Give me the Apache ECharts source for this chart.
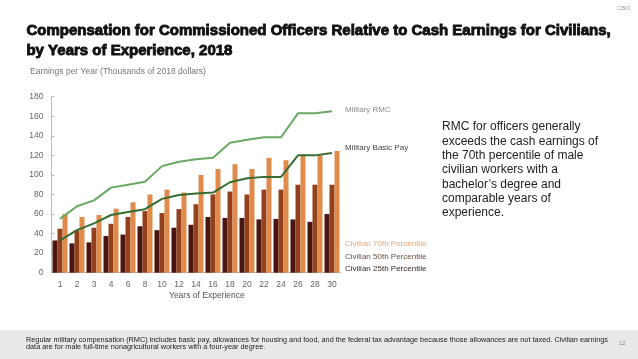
<!DOCTYPE html>
<html>
<head>
<meta charset="utf-8">
<script src="https://cdn.jsdelivr.net/npm/echarts@6/dist/echarts.min.js"></script>
<style>
html,body{margin:0;padding:0;background:#fff;}
#c{width:638px;height:359px;}
</style>
</head>
<body>
<div id="c"></div>
<script>
var years = ['1','2','3','4','6','8','10','12','14','16','18','20','22','24','26','28','30'];
var civ25 = [33, 30, 31, 37.5, 39, 47.5, 43.5, 46, 49, 57, 56, 56, 54.5, 55, 54.5, 52, 60];
var civ50 = [45, 43, 46, 50, 57, 63, 61, 65, 70, 80, 83, 80, 85, 85, 90, 90, 90];
var civ70 = [60, 57, 59, 65.5, 72, 80, 85, 82, 100, 106, 111, 106, 117.5, 115, 120, 120, 124.5];
var rmc = [55, 68, 74, 87, 90, 93, 109, 113.5, 116, 117.5, 133, 136, 138.5, 138.5, 163, 163, 165];
var basicPay = [33, 43.5, 50.5, 59, 62, 65, 75.5, 79.5, 81, 82, 92.5, 96.5, 98, 98, 120, 120, 122.5];

var titleLines = ['Compensation for Commissioned Officers Relative to Cash Earnings for Civilians,', 'by Years of Experience, 2018'];
var noteText = 'RMC for officers generally\nexceeds the cash earnings of\nthe 70th percentile of male\ncivilian workers with a\nbachelor\u2019s degree and\ncomparable years of\nexperience.';
var footerText = 'Regular military compensation (RMC) includes basic pay, allowances for housing and food, and the federal tax advantage because those allowances are not taxed. Civilian earnings\ndata are for male full-time nonagricultural workers with a four-year degree.';

var C25 = '#4a1510', C50 = '#93401d', C70 = '#e08a4c', CRMC = '#6aa964', CBP = '#356d30';

var chart = echarts.init(document.getElementById('c'), null, {renderer: 'canvas'});
var F = 'Liberation Sans, Arial, sans-serif';
chart.setOption({
  animation: false,
  backgroundColor: '#fff',
  textStyle: {fontFamily: F},
  grid: {left: 51.5, top: 96.7, width: 289, height: 176, containLabel: false},
  xAxis: {
    type: 'category', data: years,
    axisLine: {show: true, lineStyle: {color: '#bbb', width: 1}},
    axisTick: {show: false},
    axisLabel: {fontSize: 8.5, color: '#666', margin: 7, fontFamily: F}
  },
  yAxis: {
    type: 'value', min: 0, max: 180, interval: 20,
    axisLine: {show: true, lineStyle: {color: '#bbb'}},
    axisTick: {show: true, inside: true, length: 3, lineStyle: {color: '#bbb'}},
    splitLine: {show: false},
    axisLabel: {fontSize: 8.5, color: '#666', margin: 8, fontFamily: F}
  },
  series: [
    {name: 'Civilian 25th Percentile', type: 'bar', data: civ25, barWidth: 5, barGap: '0%', itemStyle: {color: C25}},
    {name: 'Civilian 50th Percentile', type: 'bar', data: civ50, barWidth: 5, barGap: '0%', itemStyle: {color: C50}},
    {name: 'Civilian 70th Percentile', type: 'bar', data: civ70, barWidth: 5, barGap: '0%', itemStyle: {color: C70}},
    {name: 'Military RMC', type: 'line', data: rmc, symbol: 'none', z: 5, lineStyle: {color: CRMC, width: 2}},
    {name: 'Military Basic Pay', type: 'line', data: basicPay, symbol: 'none', z: 5, lineStyle: {color: CBP, width: 2}}
  ],
  graphic: [
    {type: 'text', left: 617, top: 5, style: {text: 'CBO', fontSize: 6, fill: '#999', fontFamily: F}},
    {type: 'text', left: 26, top: 23, style: {text: titleLines[0], fontSize: 15, fontWeight: 'bold', fill: '#111', stroke: '#111', lineWidth: 0.9, fontFamily: F}},
    {type: 'text', left: 26, top: 43, style: {text: titleLines[1], fontSize: 15, fontWeight: 'bold', fill: '#111', stroke: '#111', lineWidth: 0.9, fontFamily: F}},
    {type: 'text', left: 30, top: 67, style: {text: 'Earnings per Year (Thousands of 2018 dollars)', fontSize: 8.5, fill: '#777', fontFamily: F}},
    {type: 'text', left: 169, top: 291, style: {text: 'Years of Experience', fontSize: 8.5, fill: '#555', fontFamily: F}},
    {type: 'text', left: 345, top: 106, style: {text: 'Military RMC', fontSize: 8, fill: '#8a8a8a', fontFamily: F}},
    {type: 'text', left: 345, top: 144, style: {text: 'Military Basic Pay', fontSize: 8, fill: '#444', fontFamily: F}},
    {type: 'text', left: 345, top: 239.5, style: {text: 'Civilian 70th Percentile', fontSize: 8, fill: '#e3a878', fontFamily: F}},
    {type: 'text', left: 345, top: 252.5, style: {text: 'Civilian 50th Percentile', fontSize: 8, fill: '#6e4a3c', fontFamily: F}},
    {type: 'text', left: 345, top: 265, style: {text: 'Civilian 25th Percentile', fontSize: 8, fill: '#3a2823', fontFamily: F}},
    {type: 'text', left: 442, top: 120, style: {text: noteText, fontSize: 12, lineHeight: 14.3, fill: '#222', fontFamily: F}},
    {type: 'rect', left: 0, top: 330, shape: {width: 638, height: 29}, style: {fill: '#e8e8e8'}},
    {type: 'text', left: 26, top: 336, style: {text: footerText, fontSize: 7.3, lineHeight: 7.6, fill: '#222', fontFamily: F}},
    {type: 'text', left: 619, top: 340, style: {text: '12', fontSize: 6, fill: '#888', fontFamily: F}}
  ]
});
</script>
</body>
</html>
